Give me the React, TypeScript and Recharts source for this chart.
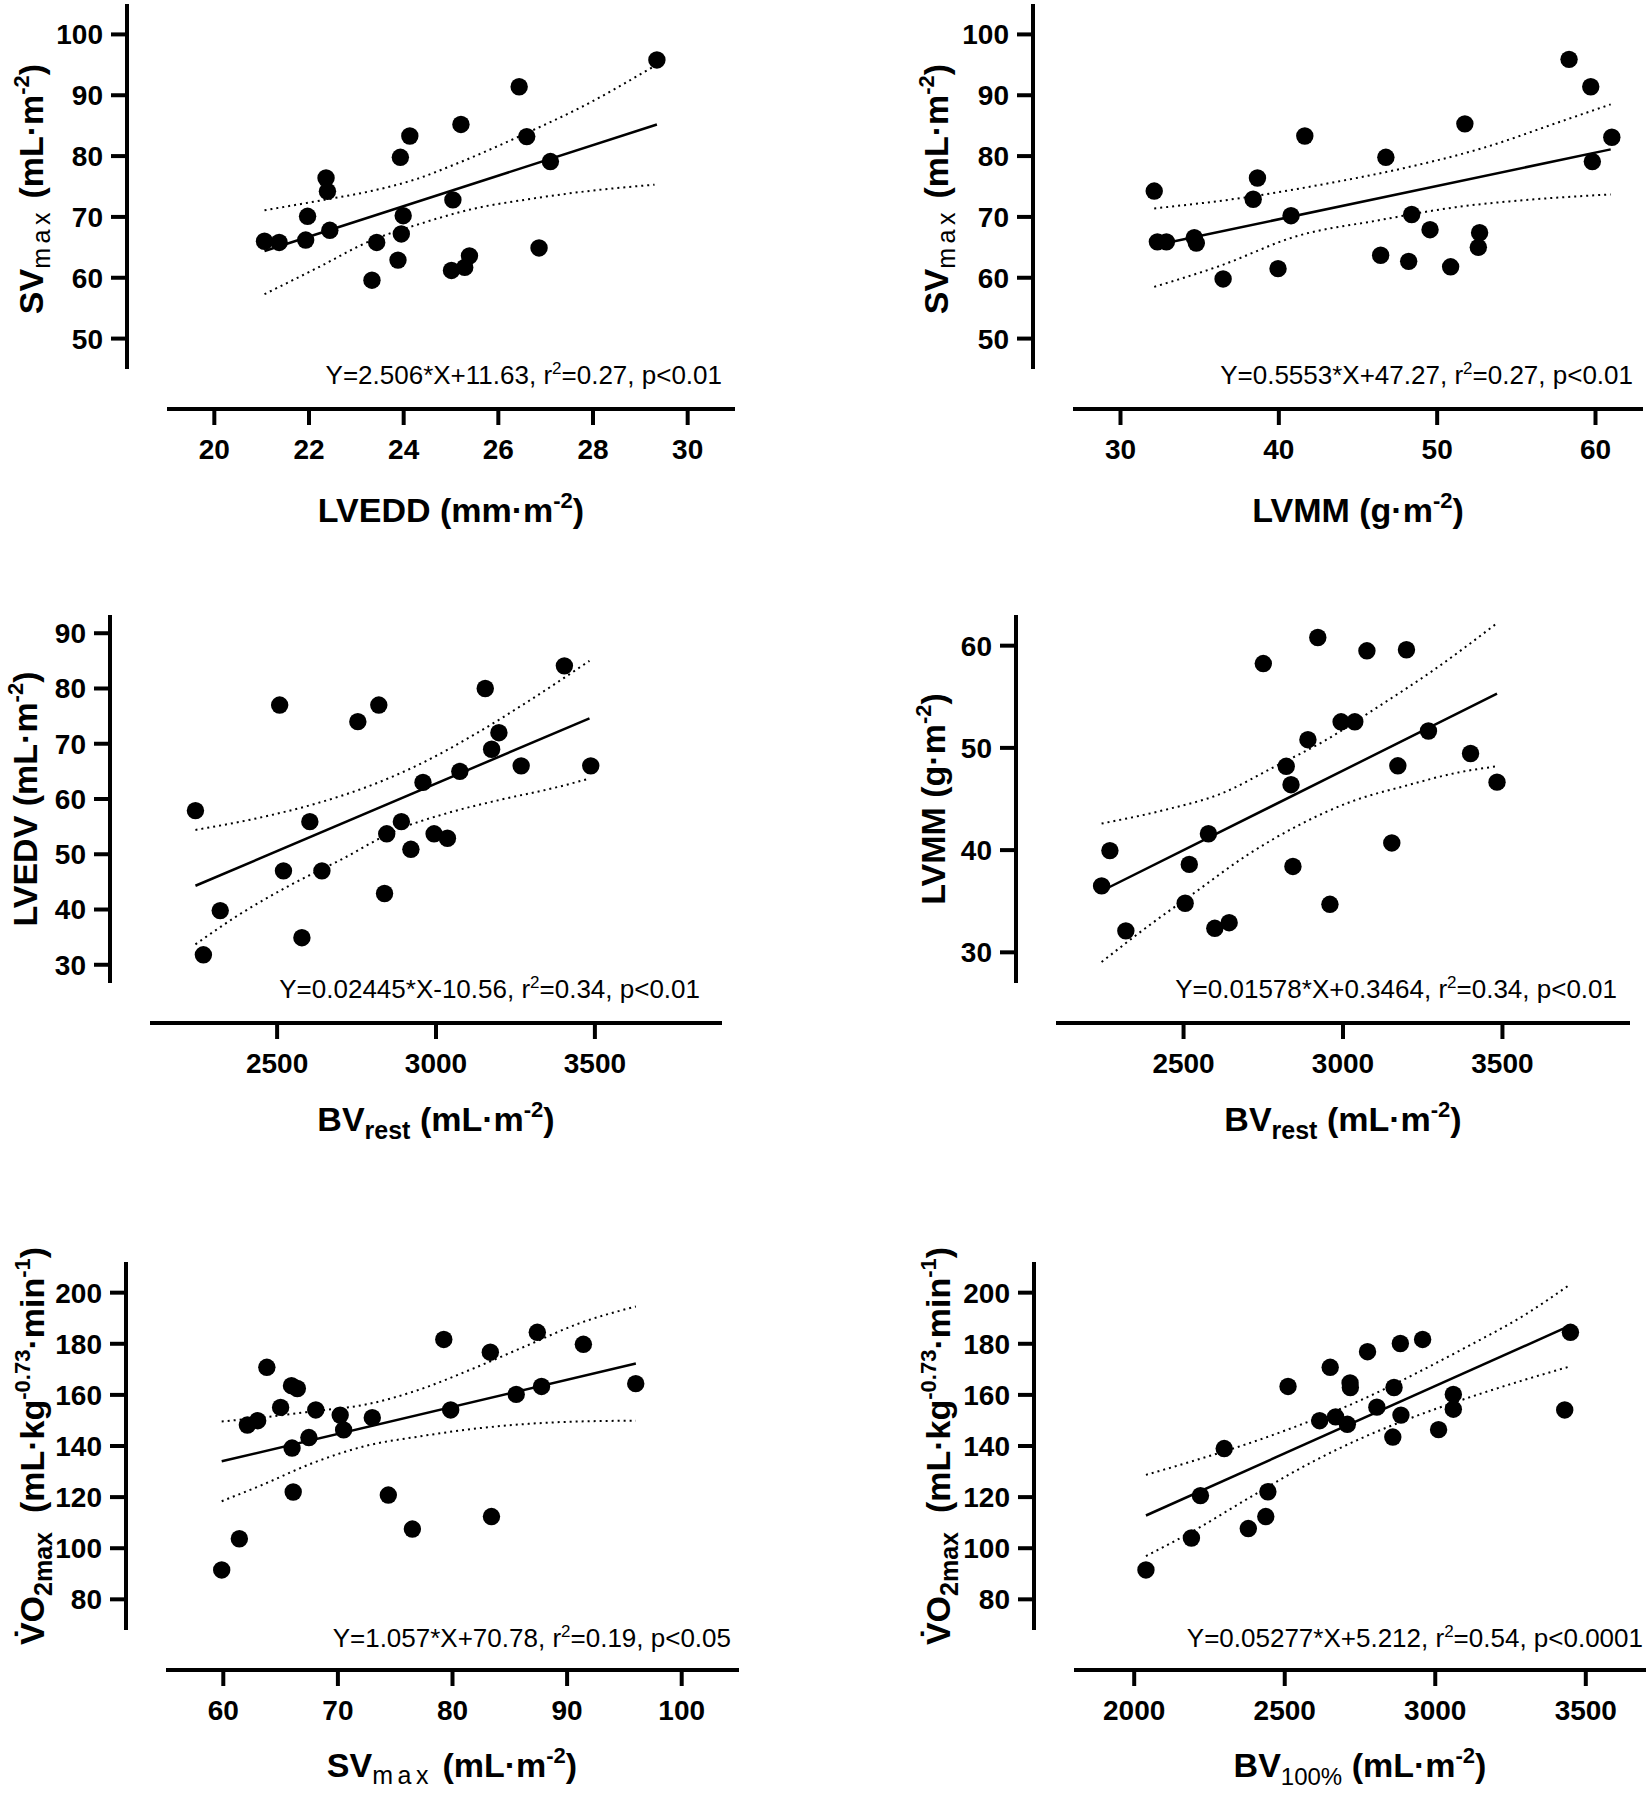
import React from 'react'
import { ComposedChart, Line, Scatter, XAxis, YAxis, ReferenceLine } from 'recharts'

/* ========================================
   Six regression panels (Prism style, offset axes)
   ======================================== */

const FONT = '"Liberation Sans", Arial, Helvetica, sans-serif'
const GAP = 40 // offset between the two axis lines

// Panel A: SVmax vs LVEDD
const lveddA = [21.06, 21.37, 21.93, 21.97, 22.36, 22.39, 22.44, 23.33, 23.43, 23.88, 23.93, 23.95, 23.99, 24.13, 25.01, 25.04, 25.21, 25.29, 25.39, 26.44, 26.6, 26.86, 27.1, 29.35]
const svA = [66.0, 65.8, 66.2, 70.1, 76.4, 74.2, 67.8, 59.6, 65.8, 62.9, 79.8, 67.2, 70.2, 83.3, 61.2, 72.8, 85.2, 61.7, 63.6, 91.4, 83.2, 64.9, 79.1, 95.8]
const fitAX = [21.06, 29.35]
const fitAY = [64.4, 85.2]
const ciAUpX = [21.06, 22.39, 23.28, 24.3, 25.07, 26.63, 27.74, 29.3]
const ciAUp = [71.1, 72.9, 74.2, 76.3, 78.6, 83.9, 88.0, 94.8]
const ciALoX = [21.06, 22.17, 23.28, 24.4, 25.51, 26.63, 27.74, 29.3]
const ciALo = [57.3, 61.6, 66.0, 69.0, 71.4, 72.9, 74.1, 75.3]
const xTicksA = [20, 22, 24, 26, 28, 30]
const yTicksA = [50, 60, 70, 80, 90, 100]

// Panel B: SVmax vs LVMM
const lvmmB = [32.13, 32.33, 32.9, 34.66, 34.79, 36.48, 38.38, 38.65, 39.95, 40.77, 41.64, 46.43, 46.76, 48.2, 48.39, 49.55, 50.85, 51.75, 52.68, 52.6, 58.33, 59.7, 59.8, 61.03]
const svB = [74.25, 65.9, 65.9, 66.6, 65.7, 59.8, 72.9, 76.4, 61.5, 70.2, 83.3, 63.7, 79.8, 62.7, 70.4, 67.9, 61.8, 85.3, 67.4, 65.0, 95.9, 91.4, 79.1, 83.1]
const fitBX = [32.13, 60.96]
const fitBY = [65.3, 81.1]
const ciBUpX = [32.13, 37.88, 42.87, 47.86, 52.85, 57.83, 60.96]
const ciBUp = [71.4, 73.2, 75.4, 78.0, 81.3, 85.7, 88.5]
const ciBLoX = [32.13, 36.22, 41.21, 46.2, 51.18, 56.17, 60.96]
const ciBLo = [58.5, 61.9, 66.9, 69.4, 71.6, 72.9, 73.7]
const xTicksB = [30, 40, 50, 60]
const yTicksB = [50, 60, 70, 80, 90, 100]

// Panel C: LVEDV vs BVrest
const bvC = [2243, 2268, 2321, 2508, 2520, 2578, 2603, 2641, 2754, 2820, 2838, 2845, 2891, 2921, 2959, 2994, 3036, 3075, 3155, 3175, 3198, 3268, 3404, 3487]
const lvedvC = [57.9, 31.8, 39.8, 77.0, 47.0, 34.9, 55.9, 47.0, 74.0, 77.0, 42.9, 53.7, 55.9, 50.9, 63.0, 53.7, 52.9, 65.0, 80.0, 69.0, 72.0, 66.0, 84.1, 66.0]
const fitCX = [2243, 3483]
const fitCY = [44.3, 74.6]
const ciCUpX = [2243, 2459, 2624, 2790, 2956, 3122, 3288, 3483]
const ciCUp = [54.4, 56.8, 59.2, 62.35, 66.5, 71.7, 77.6, 85.0]
const ciCLoX = [2243, 2376, 2541, 2707, 2873, 3039, 3205, 3371, 3483]
const ciCLo = [33.7, 38.9, 44.4, 49.2, 54.3, 57.5, 59.9, 62.0, 63.7]
const xTicksC = [2500, 3000, 3500]
const yTicksC = [30, 40, 50, 60, 70, 80, 90]

// Panel D: LVMM vs BVrest
const bvD = [2243, 2269, 2319, 2505, 2518, 2578, 2598, 2643, 2750, 2822, 2837, 2843, 2890, 2921, 2959, 2994, 3037, 3075, 3153, 3172, 3199, 3268, 3400, 3483]
const lvmmD = [36.5, 39.95, 32.1, 34.8, 38.6, 41.6, 32.35, 32.9, 58.25, 48.2, 46.4, 38.4, 50.8, 60.8, 34.7, 52.55, 52.55, 59.5, 40.7, 48.25, 59.6, 51.65, 49.45, 46.65]
const fitDX = [2243, 3483]
const fitDY = [36.0, 55.3]
const ciDUpX = [2243, 2450, 2616, 2782, 2948, 3114, 3279, 3483]
const ciDUp = [42.6, 44.0, 45.5, 48.1, 50.8, 54.1, 57.5, 62.2]
const ciDLoX = [2243, 2367, 2533, 2699, 2865, 3031, 3197, 3362, 3483]
const ciDLo = [29.05, 32.05, 35.8, 39.5, 42.5, 44.8, 46.3, 47.6, 48.2]
const xTicksD = [2500, 3000, 3500]
const yTicksD = [30, 40, 50, 60]

// Panel E: VO2max vs SVmax
const svE = [59.86, 61.4, 62.1, 63.0, 63.8, 65.0, 65.95, 66.0, 66.1, 66.46, 67.47, 68.07, 70.2, 70.5, 73.0, 74.4, 76.5, 79.24, 79.84, 83.3, 83.4, 85.56, 87.4, 87.77, 91.42, 95.99]
const vo2E = [91.5, 103.7, 148.2, 149.9, 170.8, 155.1, 163.6, 139.2, 122.0, 162.5, 143.3, 154.1, 152.1, 146.3, 151.1, 120.8, 107.5, 181.7, 154.1, 176.7, 112.4, 160.2, 184.5, 163.3, 179.8, 164.4]
const fitEX = [59.86, 96.0]
const fitEY = [134.0, 172.3]
const ciEX = [59.86, 63.3, 67.9, 72.5, 77.2, 81.8, 86.4, 91.0, 96.0]
const ciEUp = [149.6, 151.1, 153.6, 156.3, 162.2, 170.3, 179.1, 187.9, 194.6]
const ciELo = [118.4, 124.6, 133.5, 140.1, 143.8, 146.7, 148.6, 149.6, 149.9]
const xTicksE = [60, 70, 80, 90, 100]
const yTicksE = [80, 100, 120, 140, 160, 180, 200]

// Panel F: VO2max vs BV100%
const bvF = [2039, 2190, 2220, 2299, 2379, 2437, 2444, 2511, 2616, 2651, 2669, 2708, 2717, 2718, 2775, 2806, 2859, 2863, 2884, 2886, 2958, 3011, 3060, 3060, 3430, 3449]
const vo2F = [91.5, 104.0, 120.6, 139.0, 107.7, 112.4, 122.1, 163.3, 149.9, 170.8, 151.4, 148.5, 164.7, 162.9, 176.9, 155.2, 143.5, 162.9, 180.1, 152.1, 181.7, 146.4, 160.2, 154.4, 154.1, 184.5]
const fitFX = [2039, 3444]
const fitFY = [112.8, 186.9]
const ciFX = [2039, 2200, 2400, 2600, 2750, 2900, 3100, 3300, 3444]
const ciFUp = [128.7, 134.3, 141.8, 150.5, 157.8, 166.3, 178.5, 191.5, 202.9]
const ciFLo = [96.9, 107.0, 121.0, 134.3, 142.8, 150.1, 158.5, 166.0, 171.0]
const xTicksF = [2000, 2500, 3000, 3500]
const yTicksF = [80, 100, 120, 140, 160, 180, 200]

const zip = (xs: number[], ys: number[]) => xs.map((x, i) => ({ x, y: ys[i] }))

interface PanelCfg {
  left: number
  top: number
  yAxisX: number
  plotTop: number
  xAxisY: number
  plotRight: number
  xRange: [number, number]
  yRange: [number, number]
  xTicks: number[]
  yTicks: number[]
  points: { x: number; y: number }[]
  fit: { x: number; y: number }[]
  upper: { x: number; y: number }[]
  lower: { x: number; y: number }[]
}

const PANELS: PanelCfg[] = [
  { left: 0, top: 0, yAxisX: 127, plotTop: 4, xAxisY: 409, plotRight: 735, xRange: [19, 31], yRange: [45, 105], xTicks: xTicksA, yTicks: yTicksA,
    points: zip(lveddA, svA), fit: zip(fitAX, fitAY), upper: zip(ciAUpX, ciAUp), lower: zip(ciALoX, ciALo) },
  { left: 825, top: 0, yAxisX: 1033, plotTop: 4, xAxisY: 409, plotRight: 1643, xRange: [27, 63], yRange: [45, 105], xTicks: xTicksB, yTicks: yTicksB,
    points: zip(lvmmB, svB), fit: zip(fitBX, fitBY), upper: zip(ciBUpX, ciBUp), lower: zip(ciBLoX, ciBLo) },
  { left: 0, top: 598, yAxisX: 110, plotTop: 615, xAxisY: 1023, plotRight: 722, xRange: [2100, 3900], yRange: [26.7, 93.3], xTicks: xTicksC, yTicks: yTicksC,
    points: zip(bvC, lvedvC), fit: zip(fitCX, fitCY), upper: zip(ciCUpX, ciCUp), lower: zip(ciCLoX, ciCLo) },
  { left: 825, top: 598, yAxisX: 1016, plotTop: 615, xAxisY: 1023, plotRight: 1630, xRange: [2100, 3900], yRange: [27, 63], xTicks: xTicksD, yTicks: yTicksD,
    points: zip(bvD, lvmmD), fit: zip(fitDX, fitDY), upper: zip(ciDUpX, ciDUp), lower: zip(ciDLoX, ciDLo) },
  { left: 0, top: 1196, yAxisX: 126, plotTop: 1262, xAxisY: 1670, plotRight: 739, xRange: [55, 105], yRange: [68, 212], xTicks: xTicksE, yTicks: yTicksE,
    points: zip(svE, vo2E), fit: zip(fitEX, fitEY), upper: zip(ciEX, ciEUp), lower: zip(ciEX, ciELo) },
  { left: 825, top: 1196, yAxisX: 1034, plotTop: 1262, xAxisY: 1670, plotRight: 1646, xRange: [1800, 3700], yRange: [68, 212], xTicks: xTicksF, yTicks: yTicksF,
    points: zip(bvF, vo2F), fit: zip(fitFX, fitFY), upper: zip(ciFX, ciFUp), lower: zip(ciFX, ciFLo) },
]

const CHART_W = 824
const CHART_H = 600

const tickStyle = { fill: '#000', fontSize: 28, fontWeight: 700, fontFamily: FONT }
const tickLineStyle = { stroke: '#000', strokeWidth: 4 }

const renderDot = (props: any) => <circle cx={props.cx} cy={props.cy} r={8.7} fill="#000" />

function Panel({ p }: { p: PanelCfg }) {
  const [xMin, xMax] = p.xRange
  const [yMin, yMax] = p.yRange
  const axisW = p.plotRight - p.yAxisX - GAP
  const axisH = p.xAxisY - p.plotTop - GAP
  const xLo = xMin - (GAP * (xMax - xMin)) / axisW
  const yLo = yMin - (GAP * (yMax - yMin)) / axisH

  return (
    <div style={{ position: 'absolute', left: p.left, top: p.top }}>
      <ComposedChart
        width={CHART_W}
        height={CHART_H}
        margin={{ top: p.plotTop - p.top, right: p.left + CHART_W - p.plotRight, bottom: 0, left: 0 }}
      >
        <XAxis
          type="number"
          dataKey="x"
          domain={[xLo, xMax]}
          ticks={p.xTicks}
          interval={0}
          allowDataOverflow
          height={p.top + CHART_H - p.xAxisY}
          axisLine={false}
          tickSize={16}
          tickMargin={14}
          tickLine={tickLineStyle}
          tick={tickStyle}
        />
        <YAxis
          type="number"
          dataKey="y"
          domain={[yLo, yMax]}
          ticks={p.yTicks}
          interval={0}
          allowDataOverflow
          width={p.yAxisX - p.left}
          axisLine={false}
          tickSize={16}
          tickMargin={8}
          tickLine={tickLineStyle}
          tick={tickStyle}
        />
        {/* offset axis lines */}
        <ReferenceLine segment={[{ x: xMin, y: yLo }, { x: xMax, y: yLo }]} stroke="#000" strokeWidth={4} ifOverflow="visible" />
        <ReferenceLine segment={[{ x: xLo, y: yMin }, { x: xLo, y: yMax }]} stroke="#000" strokeWidth={4} ifOverflow="visible" />
        <Line data={p.upper} dataKey="y" type="monotone" stroke="#000" strokeWidth={2} strokeDasharray="2 4" dot={false} activeDot={false} isAnimationActive={false} />
        <Line data={p.lower} dataKey="y" type="monotone" stroke="#000" strokeWidth={2} strokeDasharray="2 4" dot={false} activeDot={false} isAnimationActive={false} />
        <Line data={p.fit} dataKey="y" type="linear" stroke="#000" strokeWidth={2.5} dot={false} activeDot={false} isAnimationActive={false} />
        <Scatter data={p.points} dataKey="y" fill="#000" shape={renderDot} isAnimationActive={false} />
      </ComposedChart>
    </div>
  )
}

/* ========================================
   Titles and equations
   ======================================== */

const Sup = ({ t }: { t: string }) => (
  <tspan dy={-14} fontSize={22}>{t}</tspan>
)

function M2() {
  return (
    <>
      <Sup t="-2" />
      <tspan dy={14}>)</tspan>
    </>
  )
}

function XTitle({ x, y, children }: { x: number; y: number; children: React.ReactNode }) {
  return (
    <text x={x} y={y} textAnchor="middle" fontSize={34} fontWeight={700} fontFamily={FONT} fill="#000">
      {children}
    </text>
  )
}

function YTitle({ x, y, children }: { x: number; y: number; children: React.ReactNode }) {
  return (
    <text transform={`translate(${x} ${y}) rotate(-90)`} textAnchor="middle" fontSize={34} fontWeight={700} fontFamily={FONT} fill="#000">
      {children}
    </text>
  )
}

function Equation({ x, y, pre, post }: { x: number; y: number; pre: string; post: string }) {
  return (
    <text x={x} y={y} textAnchor="end" fontSize={26} fontFamily={FONT} fill="#000">
      {pre}
      <tspan dy={-10} fontSize={17}>2</tspan>
      <tspan dy={10}>{post}</tspan>
    </text>
  )
}

const SvMax = () => (
  <>
    SV
    <tspan dy={7} fontSize={25} fontWeight={400} letterSpacing={4.5}>max</tspan>
    <tspan dy={-7}>{' (mL·m'}</tspan>
    <M2 />
  </>
)

const Vo2Max = () => (
  <>
    {'V\u0307O'}
    <tspan dy={8} fontSize={25}>2max</tspan>
    <tspan dy={-8}>{'\u00a0 (mL·kg'}</tspan>
    <Sup t="-0.73" />
    <tspan dy={14}>·min</tspan>
    <Sup t="-1" />
    <tspan dy={14}>)</tspan>
  </>
)

const BvRest = () => (
  <>
    BV
    <tspan dy={8} fontSize={25}>rest</tspan>
    <tspan dy={-8}>{' (mL·m'}</tspan>
    <M2 />
  </>
)

export default function App() {
  return (
    <div style={{ position: 'absolute', left: 0, top: 0, width: 1649, height: 1796, background: '#fff', overflow: 'hidden' }}>
      {PANELS.map((p, i) => (
        <Panel key={i} p={p} />
      ))}
      <svg width={1649} height={1796} style={{ position: 'absolute', left: 0, top: 0, pointerEvents: 'none' }}>
        {/* row 1 */}
        <YTitle x={43} y={189}><SvMax /></YTitle>
        <XTitle x={451} y={522}>{'LVEDD (mm·m'}<M2 /></XTitle>
        <Equation x={722} y={384} pre="Y=2.506*X+11.63, r" post="=0.27, p<0.01" />

        <YTitle x={948} y={189}><SvMax /></YTitle>
        <XTitle x={1358} y={522}>{'LVMM (g·m'}<M2 /></XTitle>
        <Equation x={1633} y={384} pre="Y=0.5553*X+47.27, r" post="=0.27, p<0.01" />

        {/* row 2 */}
        <YTitle x={37} y={799}>{'LVEDV (mL·m'}<M2 /></YTitle>
        <XTitle x={436} y={1131}><BvRest /></XTitle>
        <Equation x={700} y={998} pre="Y=0.02445*X-10.56, r" post="=0.34, p<0.01" />

        <YTitle x={945} y={799}>{'LVMM (g·m'}<M2 /></YTitle>
        <XTitle x={1343} y={1131}><BvRest /></XTitle>
        <Equation x={1617} y={998} pre="Y=0.01578*X+0.3464, r" post="=0.34, p<0.01" />

        {/* row 3 */}
        <YTitle x={44} y={1446}><Vo2Max /></YTitle>
        <XTitle x={452} y={1777}><SvMax /></XTitle>
        <Equation x={731} y={1647} pre="Y=1.057*X+70.78, r" post="=0.19, p<0.05" />

        <YTitle x={950} y={1446}><Vo2Max /></YTitle>
        <XTitle x={1360} y={1777}>
          BV
          <tspan dy={8} fontSize={24} fontWeight={400}>100%</tspan>
          <tspan dy={-8}>{' (mL·m'}</tspan>
          <M2 />
        </XTitle>
        <Equation x={1643} y={1647} pre="Y=0.05277*X+5.212, r" post="=0.54, p<0.0001" />
      </svg>
    </div>
  )
}
